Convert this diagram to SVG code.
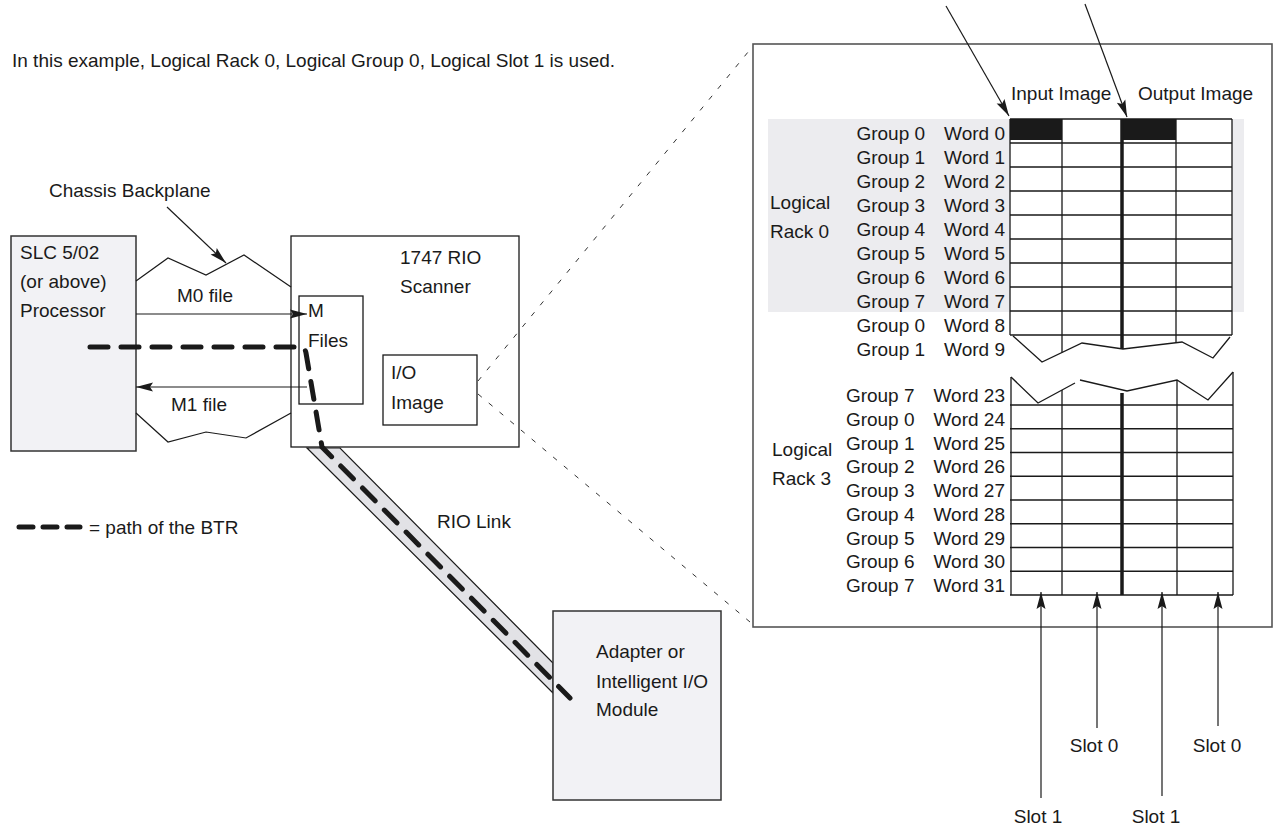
<svg xmlns="http://www.w3.org/2000/svg" width="1275" height="827" viewBox="0 0 1275 827">
<defs>
<marker id="ah" markerUnits="userSpaceOnUse" markerWidth="20" markerHeight="12" viewBox="-18 -6 20 12" refX="0" refY="0" orient="auto">
<path d="M0,0 L-17,-4.5 L-14,0 L-17,4.5 Z" fill="#1a1a1a"/>
</marker>
<style>
text{font-family:"Liberation Sans",Arial,sans-serif;font-size:19px;fill:#1a1a1a}
.ln{fill:none;stroke:#1a1a1a;stroke-width:1.2}
.box{fill:#fff;stroke:#1a1a1a;stroke-width:1.3}
.gbox{fill:#f2f2f5;stroke:#333;stroke-width:1.5}
.dash{fill:none;stroke:#1a1a1a;stroke-width:5;stroke-dasharray:18 13;stroke-linecap:round}
.leg{fill:none;stroke:#1a1a1a;stroke-width:5;stroke-dasharray:14 10;stroke-linecap:round}
.zoom{fill:none;stroke:#333;stroke-width:1;stroke-dasharray:5 9}
.arr{fill:none;stroke:#1a1a1a;stroke-width:1.2;marker-end:url(#ah)}
.grid{fill:none;stroke:#1a1a1a;stroke-width:1.3}
.thick{fill:none;stroke:#1a1a1a;stroke-width:3.5}
.r{text-anchor:end}
.m{text-anchor:middle}
</style>
</defs>
<rect width="1275" height="827" fill="#fff"/>

<g id="note">
<text x="12" y="67">In this example, Logical Rack 0, Logical Group 0, Logical Slot 1 is used.</text>
</g>

<g id="rio-link">
<polygon points="307,448 340,448 553,663 553,693" fill="#e2e2e6" stroke="#1a1a1a" stroke-width="1.2"/>
<text x="437" y="528">RIO Link</text>
</g>

<g id="processor">
<rect x="11" y="236" width="125" height="215" class="gbox"/>
<text x="20" y="259">SLC 5/02</text>
<text x="20" y="288">(or above)</text>
<text x="20" y="317">Processor</text>
</g>

<g id="scanner">
<rect x="291" y="236" width="228" height="211" class="box"/>
<text x="400" y="264">1747 RIO</text>
<text x="400" y="293">Scanner</text>
</g>

<g id="m-files">
<rect x="299" y="296" width="64" height="108" class="box"/>
<text x="308" y="317">M</text>
<text x="308" y="347">Files</text>
</g>

<g id="io-image">
<rect x="383" y="355" width="94" height="70" class="box"/>
<text x="391" y="379">I/O</text>
<text x="391" y="409">Image</text>
</g>

<g id="adapter">
<rect x="553" y="611" width="168" height="189" class="gbox"/>
<text x="596" y="658">Adapter or</text>
<text x="596" y="688">Intelligent I/O</text>
<text x="596" y="716">Module</text>
</g>

<g id="backplane">
<polyline class="ln" points="136,281 168,258 206,275 244,255 291,287"/>
<polyline class="ln" points="136,413 168,442 206,432 246,438 291,413"/>
<text x="49" y="197">Chassis Backplane</text>
</g>

<g id="io-table">
<rect x="753" y="44" width="519" height="583" fill="#fff" stroke="#555" stroke-width="1.6"/>
<rect x="768" y="119" width="476" height="193" fill="#ececef"/>
<text x="1011" y="100">Input Image</text>
<text x="1138" y="100">Output Image</text>
<text x="770" y="209">Logical</text>
<text x="770" y="238">Rack 0</text>
<text x="772" y="456">Logical</text>
<text x="772" y="485">Rack 3</text>
<rect x="1010" y="119" width="222" height="216" fill="#fff"/>
<rect x="1010" y="119" width="52" height="21" fill="#1a1a1a"/>
<rect x="1122" y="119" width="54" height="21" fill="#1a1a1a"/>
<path class="grid" d="M1010,119 H1232 M1010,143 H1232 M1010,167 H1232 M1010,191 H1232 M1010,215 H1232 M1010,239 H1232 M1010,263 H1232 M1010,287 H1232 M1010,311 H1232 M1010,335 H1232 M1010,119 V335 M1232,119 V335 M1062,119 V352.5 M1176,119 V343"/>
<polyline class="grid" points="1013,336 1042,362 1082,343 1123,349 1182,342 1213,358 1230,337"/>
<line class="thick" x1="1122" y1="119" x2="1122" y2="349"/>
<polyline class="grid" points="1011,377 1038,403 1075,383"/>
<polyline class="grid" points="1080,380 1127,391 1177,380 1208,400 1233,372"/>
<path class="grid" d="M1010,405 H1233 M1010,428.75 H1233 M1010,452.5 H1233 M1010,476.25 H1233 M1010,500 H1233 M1010,523.75 H1233 M1010,547.5 H1233 M1010,571.25 H1233 M1010,595 H1233 M1011,377 V595 M1233,372 V595 M1062,390 V595 M1177,380 V595"/>
<line class="thick" x1="1122" y1="393" x2="1122" y2="595"/>
<g class="r">
<text x="1005" y="140">Group 0<tspan dx="19">Word 0</tspan></text>
<text x="1005" y="164">Group 1<tspan dx="19">Word 1</tspan></text>
<text x="1005" y="188">Group 2<tspan dx="19">Word 2</tspan></text>
<text x="1005" y="212">Group 3<tspan dx="19">Word 3</tspan></text>
<text x="1005" y="236">Group 4<tspan dx="19">Word 4</tspan></text>
<text x="1005" y="260">Group 5<tspan dx="19">Word 5</tspan></text>
<text x="1005" y="284">Group 6<tspan dx="19">Word 6</tspan></text>
<text x="1005" y="308">Group 7<tspan dx="19">Word 7</tspan></text>
<text x="1005" y="332">Group 0<tspan dx="19">Word 8</tspan></text>
<text x="1005" y="356">Group 1<tspan dx="19">Word 9</tspan></text>
<text x="1005" y="402">Group 7<tspan dx="19">Word 23</tspan></text>
<text x="1005" y="426">Group 0<tspan dx="19">Word 24</tspan></text>
<text x="1005" y="450">Group 1<tspan dx="19">Word 25</tspan></text>
<text x="1005" y="473">Group 2<tspan dx="19">Word 26</tspan></text>
<text x="1005" y="497">Group 3<tspan dx="19">Word 27</tspan></text>
<text x="1005" y="521">Group 4<tspan dx="19">Word 28</tspan></text>
<text x="1005" y="545">Group 5<tspan dx="19">Word 29</tspan></text>
<text x="1005" y="568">Group 6<tspan dx="19">Word 30</tspan></text>
<text x="1005" y="592">Group 7<tspan dx="19">Word 31</tspan></text>
</g>
</g>

<g id="connectors">
<line class="arr" x1="167" y1="207" x2="226" y2="263"/>
<line class="arr" x1="136" y1="314" x2="307" y2="314"/>
<line class="arr" x1="307" y1="387" x2="136" y2="387"/>
<line class="zoom" x1="478" y1="381" x2="753" y2="46"/>
<line class="zoom" x1="478" y1="394" x2="750" y2="622"/>
<line class="arr" x1="946" y1="6" x2="1009" y2="116"/>
<line class="arr" x1="1085" y1="4" x2="1127" y2="117"/>
<line class="arr" x1="1041" y1="798" x2="1041" y2="592"/>
<line class="arr" x1="1097" y1="728" x2="1097" y2="592"/>
<line class="arr" x1="1162" y1="796" x2="1162" y2="592"/>
<line class="arr" x1="1218" y1="726" x2="1218" y2="592"/>
<path class="dash" d="M90,347 H299 Q305,347 306,353 L322,447 L570,698"/>
</g>
<g id="m-labels">
<text x="177" y="302">M0 file</text>
<text x="171" y="411">M1 file</text>
</g>

<g id="legend">
<line class="leg" x1="19" y1="527" x2="80" y2="527"/>
<text x="89" y="534">= path of the BTR</text>
</g>

<g id="slot-labels">
<text class="m" x="1094" y="752">Slot 0</text>
<text class="m" x="1217" y="752">Slot 0</text>
<text class="m" x="1038" y="823">Slot 1</text>
<text class="m" x="1156" y="823">Slot 1</text>
</g>
</svg>
